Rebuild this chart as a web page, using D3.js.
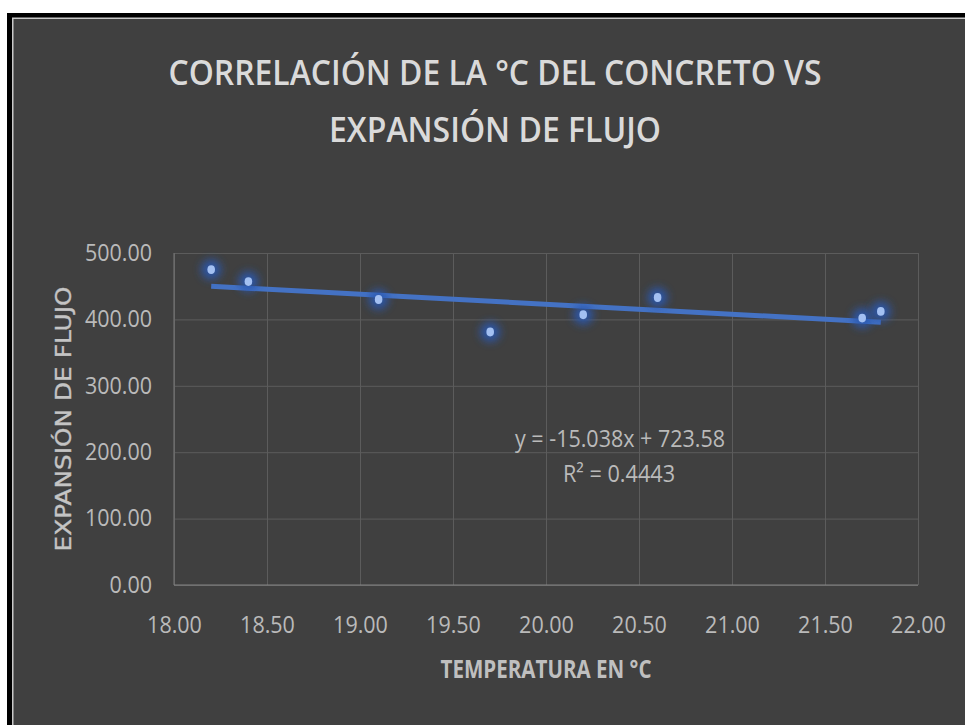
<!DOCTYPE html>
<html lang="es">
<head>
<meta charset="utf-8">
<title>Correlación de la °C del concreto vs expansión de flujo</title>
<script src="https://cdn.jsdelivr.net/npm/d3@7"></script>
<style>
  body { margin: 0; background: #fff; }
  svg { display: block; }
</style>
</head>
<body>
<script>
// data
var temperatura = [18.2, 18.4, 19.1, 19.7, 20.2, 20.6, 21.7, 21.8];
var expansion   = [475, 457, 430, 381, 407, 433, 402, 412];
var xTicks = [18, 18.5, 19, 19.5, 20, 20.5, 21, 21.5, 22];
var yTicks = [0, 100, 200, 300, 400, 500];
var pendiente = -15.038;
var intercepto = 723.58;
var r2 = 0.4443;
var titulo = ["CORRELACIÓN DE LA °C DEL CONCRETO VS", "EXPANSIÓN DE FLUJO"];
var tituloX = "TEMPERATURA EN °C";
var tituloY = "EXPANSIÓN DE FLUJO";

var w = 965, h = 725;
var pLeft = 174, pRight = 918, pTop = 253, pBottom = 585;
var calibri = "'Open Sans', 'Liberation Sans', sans-serif";

var svg = d3.select("body").append("svg")
  .attr("width", w)
  .attr("height", h);

var defs = svg.append("defs");
defs.append("filter")
  .attr("id", "glow")
  .attr("x", "-100%").attr("y", "-100%")
  .attr("width", "300%").attr("height", "300%")
  .append("feGaussianBlur")
  .attr("stdDeviation", 4);

// frame
svg.append("rect")
  .attr("x", 7).attr("y", 13)
  .attr("width", w).attr("height", h)
  .attr("fill", "#000");
svg.append("rect")
  .attr("x", 12.75).attr("y", 18.25)
  .attr("width", w).attr("height", h)
  .attr("fill", "#404040")
  .attr("stroke", "#c8c8c8")
  .attr("stroke-width", 1.5);

var x = d3.scaleLinear().domain([18, 22]).range([pLeft, pRight]);
var y = d3.scaleLinear().domain([0, 500]).range([pBottom, pTop]);

// gridlines
svg.append("g")
  .attr("transform", "translate(" + pLeft + ",0)")
  .call(d3.axisLeft(y).tickValues(yTicks).tickSize(-(pRight - pLeft)).tickFormat(""))
  .call(function(g) {
    g.select(".domain").remove();
    g.selectAll("line").attr("stroke", "#5c5c5c").attr("stroke-width", 1);
  });
svg.append("g")
  .attr("transform", "translate(0," + pBottom + ")")
  .call(d3.axisBottom(x).tickValues(xTicks).tickSize(-(pBottom - pTop)).tickFormat(""))
  .call(function(g) {
    g.select(".domain").remove();
    g.selectAll("line").attr("stroke", "#5c5c5c").attr("stroke-width", 1);
  });

// axis lines
svg.append("line")
  .attr("x1", pLeft).attr("x2", pLeft)
  .attr("y1", y(500)).attr("y2", y(0))
  .attr("stroke", "#7a7a7a");
svg.append("line")
  .attr("x1", pLeft).attr("x2", x(22))
  .attr("y1", y(0)).attr("y2", y(0))
  .attr("stroke", "#858585");

function ancho(s) {
  var d = s.replace(/[^0-9]/g, "").length;
  return 12.2 * d + 6;
}

// tick labels
svg.append("g")
  .attr("transform", "translate(" + pLeft + ",0)")
  .call(d3.axisLeft(y).tickValues(yTicks).tickSize(0).tickPadding(22).tickFormat(d3.format(".2f")))
  .call(function(g) {
    g.select(".domain").remove();
    g.selectAll("text")
      .attr("font-family", calibri)
      .attr("font-size", "23px")
      .attr("fill", "#bababa")
      .attr("textLength", function(d) { return ancho(d3.format(".2f")(d)); })
      .attr("lengthAdjust", "spacingAndGlyphs");
  });
svg.append("g")
  .attr("transform", "translate(0," + pBottom + ")")
  .call(d3.axisBottom(x).tickValues(xTicks).tickSize(0).tickPadding(32).tickFormat(d3.format(".2f")))
  .call(function(g) {
    g.select(".domain").remove();
    g.selectAll("text")
      .attr("font-family", calibri)
      .attr("font-size", "23px")
      .attr("fill", "#bababa")
      .attr("textLength", function(d) { return ancho(d3.format(".2f")(d)); })
      .attr("lengthAdjust", "spacingAndGlyphs");
  });

// trendline
var xMin = d3.min(temperatura), xMax = d3.max(temperatura);
svg.append("line")
  .attr("x1", x(xMin)).attr("y1", y(pendiente * xMin + intercepto))
  .attr("x2", x(xMax)).attr("y2", y(pendiente * xMax + intercepto))
  .attr("stroke", "#4472c4")
  .attr("stroke-width", 5)
  .attr("stroke-linecap", "butt");

// points: blurred halo + small light core
var puntos = temperatura.map(function(t, i) { return [t, expansion[i]]; });
svg.append("g").selectAll("circle")
  .data(puntos)
  .enter()
  .append("circle")
  .attr("cx", function(d) { return x(d[0]); })
  .attr("cy", function(d) { return y(d[1]); })
  .attr("r", 10)
  .attr("fill", "#2b58b0")
  .attr("opacity", 0.9)
  .attr("filter", "url(#glow)");
svg.append("g").selectAll("ellipse")
  .data(puntos)
  .enter()
  .append("ellipse")
  .attr("cx", function(d) { return x(d[0]); })
  .attr("cy", function(d) { return y(d[1]); })
  .attr("rx", 3.8)
  .attr("ry", 4.4)
  .attr("fill", "#a3c0f2");

// equation
svg.append("text")
  .attr("x", 620).attr("y", 447)
  .attr("text-anchor", "middle")
  .attr("font-family", calibri)
  .attr("font-size", "23px")
  .attr("fill", "#bababa")
  .attr("textLength", 210)
  .attr("lengthAdjust", "spacingAndGlyphs")
  .text("y = " + pendiente + "x + " + intercepto);
svg.append("text")
  .attr("x", 619).attr("y", 482)
  .attr("text-anchor", "middle")
  .attr("font-family", calibri)
  .attr("font-size", "23px")
  .attr("fill", "#bababa")
  .attr("textLength", 112)
  .attr("lengthAdjust", "spacingAndGlyphs")
  .text("R² = " + r2);

// chart title
svg.append("g").selectAll("text")
  .data(titulo)
  .enter()
  .append("text")
  .attr("x", 495)
  .attr("y", function(d, i) { return 85 + i * 57; })
  .attr("text-anchor", "middle")
  .attr("font-family", calibri)
  .attr("font-weight", 600)
  .attr("font-size", "35px")
  .attr("fill", "#dadada")
  .attr("textLength", function(d, i) { return i === 0 ? 653 : 332; })
  .attr("lengthAdjust", "spacingAndGlyphs")
  .text(function(d) { return d; });

// axis titles
svg.append("text")
  .attr("x", (pLeft + pRight) / 2).attr("y", 678)
  .attr("text-anchor", "middle")
  .attr("font-family", calibri)
  .attr("font-weight", 700)
  .attr("font-size", "25px")
  .attr("fill", "#bfbfbf")
  .attr("textLength", 211)
  .attr("lengthAdjust", "spacingAndGlyphs")
  .text(tituloX);
svg.append("text")
  .attr("transform", "translate(71,419) rotate(-90)")
  .attr("text-anchor", "middle")
  .attr("font-family", "'DejaVu Sans', Verdana, sans-serif")
  .attr("font-size", "22px")
  .attr("fill", "#c4c4c4")
  .attr("stroke", "#c4c4c4")
  .attr("stroke-width", 0.4)
  .attr("textLength", 265)
  .attr("lengthAdjust", "spacingAndGlyphs")
  .text(tituloY);
</script>
</body>
</html>
